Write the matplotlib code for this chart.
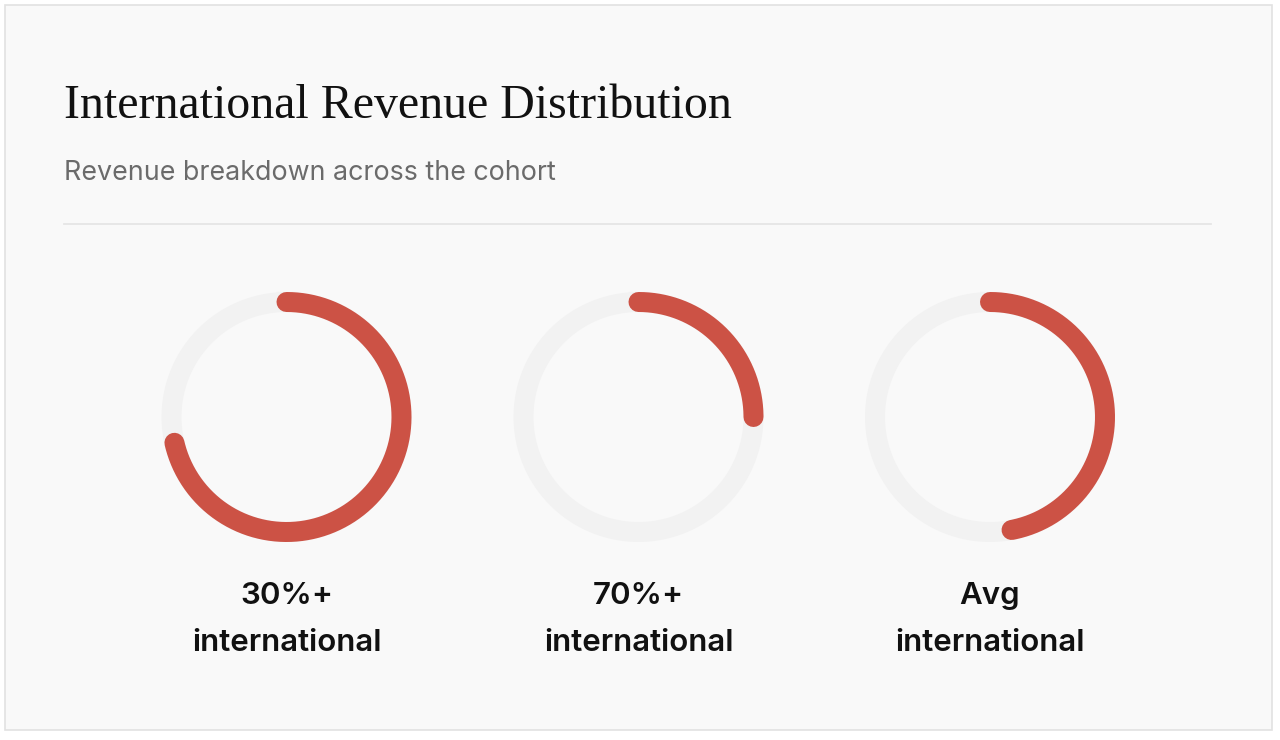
import numpy as np
import matplotlib
matplotlib.use("Agg")
import matplotlib.pyplot as plt
from matplotlib.patches import Rectangle

# ---- data ----
labels = ["30%+\ninternational", "70%+\ninternational", "Avg\ninternational"]
values = [71.4, 25.0, 47.0]   # percent of ring filled
title = "International Revenue Distribution"
subtitle = "Revenue breakdown across the cohort"

RED = "#cc5245"
TRACK = "#f2f2f2"
BG = "#f9f9f9"

W, H = 1280, 740
fig = plt.figure(figsize=(W / 100, H / 100), dpi=100)
fig.patch.set_facecolor("white")
ax = fig.add_axes([0, 0, 1, 1])
ax.set_xlim(0, W)
ax.set_ylim(H, 0)
ax.axis("off")

# card
ax.add_patch(Rectangle((5, 5), 1267, 725, facecolor=BG, edgecolor="#e2e2e2", lw=1.2, zorder=0))

ax.text(64, 118, title, fontsize=34.5, family="Liberation Serif", color="#111111",
        ha="left", va="baseline")
ax.text(64, 180, subtitle, fontsize=19.3, family="Inter", color="#6b6b6b",
        ha="left", va="baseline")
ax.plot([64, 1211], [224, 224], color="#e6e6e6", lw=1.3)

centers_x = [286.5, 638.5, 990]
cy = 417
r = 115
lw_pt = 20 * 72 / 100

for cx, v, lab in zip(centers_x, values, labels):
    t = np.linspace(0, 2 * np.pi, 400)
    ax.plot(cx + r * np.sin(t), cy - r * np.cos(t), color=TRACK, lw=lw_pt, zorder=1)
    t = np.linspace(0, 2 * np.pi * v / 100, 400)
    ax.plot(cx + r * np.sin(t), cy - r * np.cos(t), color=RED, lw=lw_pt,
            solid_capstyle="round", zorder=2)
    l1, l2 = lab.split("\n")
    ax.text(cx, 604, l1, fontsize=22.5, family="Inter", weight="semibold", color="#111111",
            ha="center", va="baseline")
    ax.text(cx, 651, l2, fontsize=22.5, family="Inter", weight="semibold", color="#111111",
            ha="center", va="baseline")

fig.savefig("out.png", dpi=100, facecolor="white")
